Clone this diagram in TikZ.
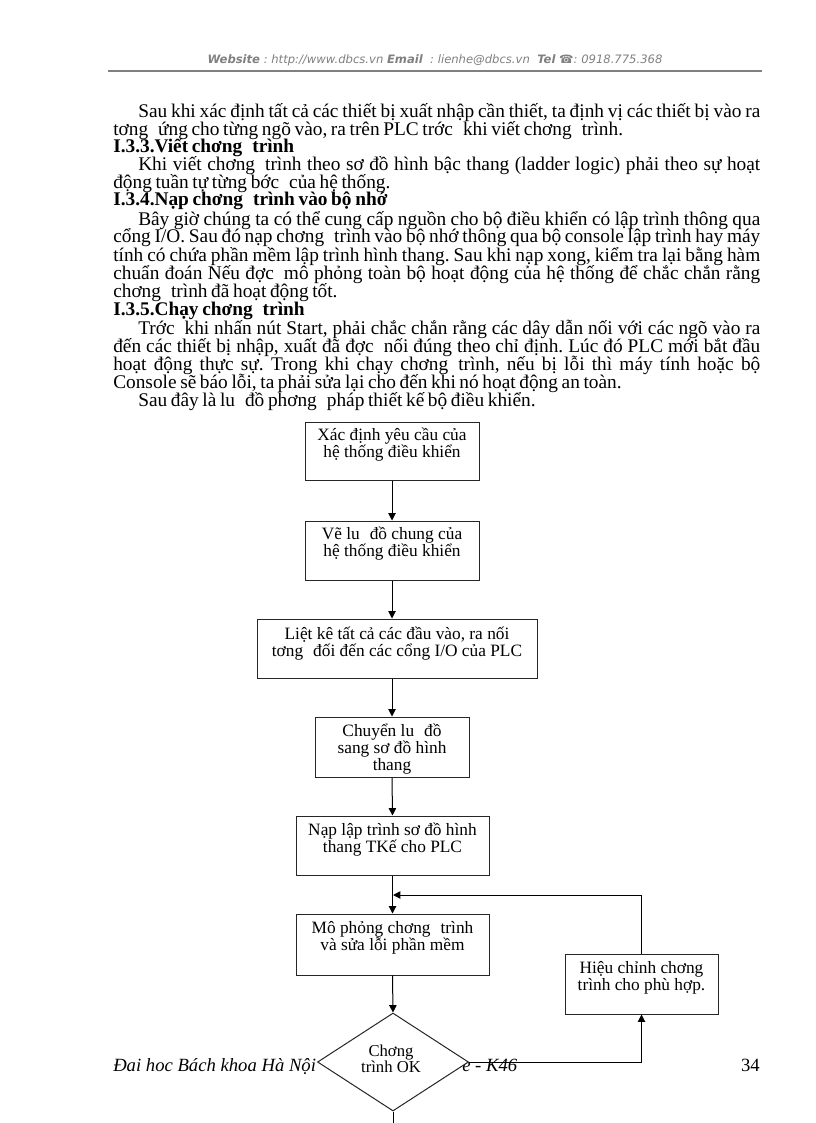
\documentclass[tikz,border=0pt]{standalone}
\usepackage{fontspec}
\usetikzlibrary{arrows.meta,shapes.geometric,calc}
\setmainfont{Liberation Serif}
\newfontfamily\bodyfnt{Liberation Serif}[WordSpace=0.75]
\newfontfamily\hdrfnt{DejaVu Sans}
\newfontfamily\symfnt{DejaVu Sans}
\newcommand\mygap{\hspace{7.5pt}}
\newcommand\jl[2]{\makebox[#1][s]{#2}}
\newcommand\ftx[1]{\parbox[t]{250pt}{\centering #1}}
\definecolor{hdrgray}{RGB}{128,128,128}
\frenchspacing
\begin{document}
\frenchspacing
\begin{tikzpicture}[x=0.75pt,y=-0.75pt,
  body/.style={anchor=base west,inner sep=0,font=\bodyfnt\fontsize{14.5}{16}\selectfont},
  head/.style={anchor=base west,inner sep=0,font=\bodyfnt\bfseries\fontsize{14.5}{16}\selectfont},
  flbox/.style={draw=black!85,line width=0.75pt,inner sep=0,fill=white},
  ftxt/.style={anchor=base,inner sep=0,font=\fontsize{13}{12.75}\selectfont},
  foot/.style={inner sep=0,font=\fontsize{14}{16}\selectfont},
  arr/.style={line width=0.75pt,-{Triangle[length=5.5pt,width=5.5pt]}},
  ln/.style={line width=0.75pt}]
\fill[white] (0,0) rectangle (816,1123);
\useasboundingbox (0,0) rectangle (816,1123);

% header
\node[anchor=base,inner sep=0,text=hdrgray,font=\hdrfnt\itshape\fontsize{8.7}{10}\selectfont] (hdr) at (435,64)
  {\textbf{Website} : http://www.dbcs.vn \textbf{Email} \ : lienhe@dbcs.vn \ \textbf{Tel} {\symfnt\upshape ☎}: 0918.775.368};
\coordinate (r1) at (108,71);
\coordinate (r2) at (762,71);
\draw[hdrgray,line width=1.2pt] (r1) -- (r2);

% body text
\node[body] (l1) at (138,118) {\jl{466.5pt}{Sau khi xác định tất cả các thiết bị xuất nhập cần thiết, ta định vị các thiết bị vào ra}};
\node[body] (l2) at (113,136) {tơng\mygap ứng cho từng ngõ vào, ra trên PLC trớc\mygap khi viết chơng\mygap trình.};
\node[head] (h1) at (113,153) {I.3.3.Viết chơng\mygap trình};
\node[body] (l3) at (138,171) {\jl{466.5pt}{Khi viết chơng\mygap trình theo sơ đồ hình bậc thang (ladder logic) phải theo sự hoạt}};
\node[body] (l4) at (113,189) {động tuần tự từng bớc\mygap của hệ thống.};
\node[head] (h2) at (113,206) {I.3.4.Nạp chơng\mygap trình vào bộ nhớ};
\node[body] (l5) at (138,225) {\jl{466.5pt}{Bây giờ chúng ta có thể cung cấp nguồn cho bộ điều khiển có lập trình thông qua}};
\node[body] (l6) at (113,243) {\jl{485.25pt}{cổng I/O. Sau đó nạp chơng\mygap trình vào bộ nhớ thông qua bộ console lập trình hay máy}};
\node[body] (l7) at (113,261) {\jl{485.25pt}{tính có chứa phần mềm lập trình hình thang. Sau khi nạp xong, kiểm tra lại bằng hàm}};
\node[body] (l8) at (113,279) {\jl{485.25pt}{chuẩn đoán Nếu đợc\mygap mô phỏng toàn bộ hoạt động của hệ thống để chắc chắn rằng}};
\node[body] (l9) at (113,297) {chơng\mygap trình đã hoạt động tốt.};
\node[head] (h3) at (113,315) {I.3.5.Chạy chơng\mygap trình};
\node[body] (l10) at (138,334) {\jl{466.5pt}{Trớc\mygap khi nhấn nút Start, phải chắc chắn rằng các dây dẫn nối với các ngõ vào ra}};
\node[body] (l11) at (113,352) {\jl{485.25pt}{đến các thiết bị nhập, xuất đã đợc\mygap nối đúng theo chỉ định. Lúc đó PLC mới bắt đầu}};
\node[body] (l12) at (113,370) {\jl{485.25pt}{hoạt động thực sự. Trong khi chạy chơng\mygap trình, nếu bị lỗi thì máy tính hoặc bộ}};
\node[body] (l13) at (113,388) {Console sẽ báo lỗi, ta phải sửa lại cho đến khi nó hoạt động an toàn.};
\node[body] (l14) at (138,406) {Sau đây là lu\mygap đồ phơng\mygap pháp thiết kế bộ điều khiển.};

% footer
\node[foot,anchor=base west,font=\itshape\fontsize{14}{16}\selectfont] (ft1) at (113,1071) {Đai hoc Bách khoa Hà Nội};
\node[foot,anchor=base west,font=\itshape\fontsize{14}{16}\selectfont] (ft2) at (462,1071) {e - K46};
\node[foot,anchor=base east] (ft3) at (760,1071) {34};

% flowchart boxes
\node[flbox,minimum width=130.5pt,minimum height=43.5pt] (b1) at (392,451) {};
\node[flbox,minimum width=130.5pt,minimum height=44.25pt] (b2) at (392,550.5) {};
\node[flbox,minimum width=210pt,minimum height=44.25pt] (b3) at (397,648.5) {};
\node[flbox,minimum width=115.5pt,minimum height=45pt] (b4) at (392,747) {};
\node[flbox,minimum width=144.75pt,minimum height=44.25pt] (b5) at (392.5,845.5) {};
\node[flbox,minimum width=144.75pt,minimum height=45.75pt] (b6) at (392.5,944.5) {};
\node[flbox,minimum width=114.75pt,minimum height=45pt] (b7) at (641.5,984) {};
\node[diamond,draw=black!85,line width=0.75pt,fill=white,inner sep=0,aspect=1.54,
      minimum width=113.25pt,minimum height=73.5pt] (d) at (393,1062) {};

% flowchart texts
\node[ftxt] (t1) at ([yshift=-14.5pt]b1.north) {\ftx{Xác định yêu cầu của\\hệ thống điều khiển}};
\node[ftxt] (t2) at ([yshift=-14.5pt]b2.north) {\ftx{Vẽ lu\mygap đồ chung của\\hệ thống điều khiển}};
\node[ftxt] (t3) at ([yshift=-15.5pt]b3.north) {\ftx{Liệt kê tất cả các đầu vào, ra nối\\tơng\mygap đối đến các cổng I/O của PLC}};
\node[ftxt] (t4) at ([yshift=-15pt]b4.north) {\ftx{Chuyển lu\mygap đồ\\sang sơ đồ hình\\thang}};
\node[ftxt] (t5) at ([yshift=-15pt]b5.north) {\ftx{Nạp lập trình sơ đồ hình\\thang TKế cho PLC}};
\node[ftxt] (t6) at ([yshift=-15pt]b6.north) {\ftx{Mô phỏng chơng\mygap trình\\và sửa lỗi phần mềm}};
\node[ftxt] (t7) at ([yshift=-15pt]b7.north) {\ftx{Hiệu chỉnh chơng\\trình cho phù hợp.}};
\node[ftxt,font=\fontsize{12.5}{12}\selectfont] (td) at (391,1056) {\ftx{Chơng\\trình OK}};

% connectors
\draw[arr] (b1.south) -- (b2.north);
\draw[arr] (b2.south) -- (b2.south |- b3.north);
\draw[arr] (b4.north |- b3.south) -- (b4.north);
\draw[arr] (b4.south) -- (b5.north);
\draw[arr] (b5.south) -- (b6.north);
\draw[arr] (b6.south) -- (d.north);
\coordinate (j) at (393,895);
\draw[arr] (b7.north) |- (j);
\draw[arr] (d.east) -| (b7.south);
\coordinate (dend) at (393,1123);
\draw[ln] (d.south) -- (dend);
\end{tikzpicture}
\end{document}
